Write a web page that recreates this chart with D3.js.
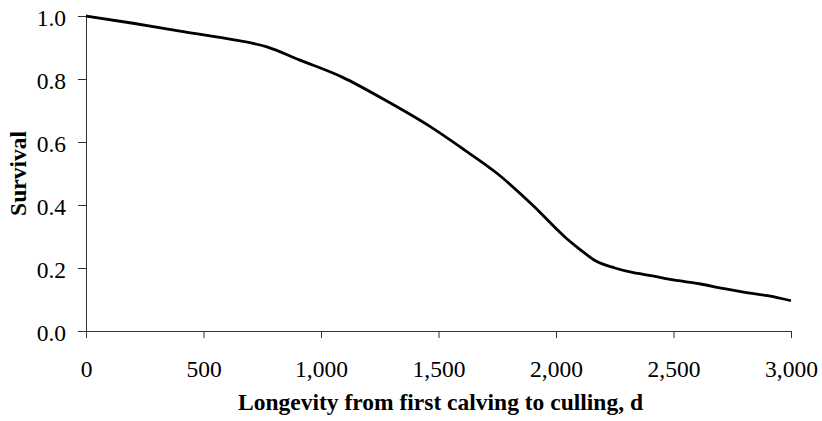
<!DOCTYPE html>
<html>
<head>
<meta charset="utf-8">
<script src="https://cdn.jsdelivr.net/npm/d3@7"></script>
<style>
  html, body { margin: 0; padding: 0; background: #fff; }
  svg { display: block; }
</style>
</head>
<body>
<svg id="chart" width="822" height="421"></svg>
<script>
// Data
const days = [0, 200, 400, 600, 770, 910, 1090, 1280, 1460, 1610, 1750, 1900, 2040, 2100, 2170, 2250, 2330, 2410, 2500, 2610, 2710, 2810, 2900, 3000];
const survival = [1.0, 0.977, 0.952, 0.928, 0.902, 0.86, 0.806, 0.73, 0.651, 0.575, 0.5, 0.4, 0.297, 0.26, 0.222, 0.2, 0.185, 0.175, 0.162, 0.15, 0.135, 0.122, 0.112, 0.096];
const xTicks = [0, 500, 1000, 1500, 2000, 2500, 3000];
const yTicks = [0.0, 0.2, 0.4, 0.6, 0.8, 1.0];
const xTitle = "Longevity from first calving to culling, d";
const yTitle = "Survival";

(function () {
const svg = d3.select("#chart");
const font = "'Liberation Serif', 'Times New Roman', serif";
const mLeft = 86, mRight = 791, mTop = 16, mBottom = 331;

const x = d3.scaleLinear().domain([0, 3000]).range([mLeft, mRight]);
const y = d3.scaleLinear().domain([0, 1]).range([mBottom, mTop]);

// X axis
const xAxis = svg.append("g")
  .attr("transform", `translate(0,${mBottom})`)
  .call(d3.axisBottom(x).tickValues(xTicks).tickSize(7).tickSizeOuter(0)
    .tickFormat(d3.format(",")));
xAxis.select(".domain").attr("stroke", "#333").attr("stroke-width", 1);
xAxis.selectAll(".tick line").attr("stroke", "#333");
xAxis.selectAll(".tick text")
  .attr("font-family", font).attr("font-size", 23.5).attr("fill", "#000")
  .attr("y", 0).attr("dy", 0).attr("transform", "translate(0,46)");

// Y axis
const yAxis = svg.append("g")
  .attr("transform", `translate(${mLeft},0)`)
  .call(d3.axisLeft(y).tickValues(yTicks).tickSize(8).tickSizeOuter(0)
    .tickFormat(d3.format(".1f")));
yAxis.select(".domain").attr("stroke", "#333").attr("stroke-width", 1);
yAxis.selectAll(".tick line").attr("stroke", "#333");
yAxis.selectAll(".tick text")
  .attr("font-family", font).attr("font-size", 23.5).attr("fill", "#000")
  .attr("x", -20).attr("dy", "0.32em").attr("transform", "translate(0,2)");

// Line
const line = d3.line()
  .x((d, i) => x(days[i]))
  .y((d, i) => y(survival[i]))
  .curve(d3.curveMonotoneX);
svg.append("path")
  .datum(survival)
  .attr("d", line)
  .attr("fill", "none")
  .attr("stroke", "#000")
  .attr("stroke-width", 2.8)
  .attr("stroke-linejoin", "round");

// Titles
svg.append("text")
  .attr("x", (mLeft + mRight) / 2 + 2).attr("y", 410)
  .attr("text-anchor", "middle")
  .attr("font-family", font).attr("font-weight", "bold").attr("font-size", 23.5)
  .text(xTitle);

svg.append("text")
  .attr("transform", `translate(26,${(mTop + mBottom) / 2}) rotate(-90)`)
  .attr("text-anchor", "middle")
  .attr("font-family", font).attr("font-weight", "bold").attr("font-size", 23.5)
  .text(yTitle);
})();
</script>
</body>
</html>
